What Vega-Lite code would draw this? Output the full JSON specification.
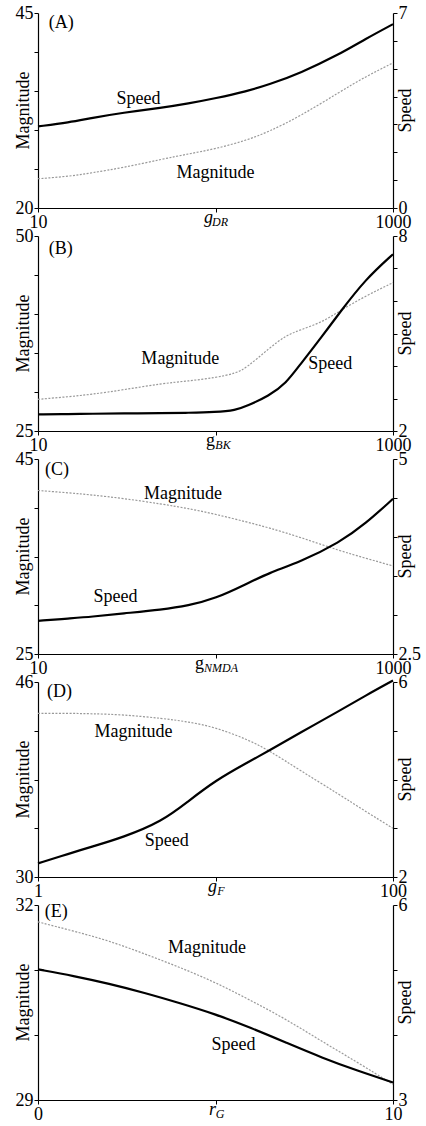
{
  "$schema": "https://vega.github.io/schema/vega-lite/v6.json",
  "padding": {"left": 14, "top": 4, "right": 2, "bottom": 2},
  "spacing": 28,
  "bounds": "flush",
  "config": {
    "view": {"stroke": null},
    "font": "'Liberation Serif', 'Times New Roman', Times, 'DejaVu Serif', serif",
    "axis": {
      "grid": false, "domainColor": "#000", "tickColor": "#000", "labelColor": "#000", "titleColor": "#000",
      "labelFlush": false, "labelOverlap": false, "tickSize": 4, "labelPadding": 1,
      "labelFont": "'Liberation Serif', 'Times New Roman', Times, 'DejaVu Serif', serif", "titleFont": "'Liberation Serif', 'Times New Roman', Times, 'DejaVu Serif', serif",
      "labelFontSize": 18, "titleFontSize": 18, "titleFontWeight": "normal", "domainWidth": 1.2, "tickWidth": 1
    },
    "text": {"font": "'Liberation Serif', 'Times New Roman', Times, 'DejaVu Serif', serif", "fontSize": 18, "color": "#000"}
  },
  "vconcat": [
    {
      "width": 355, "height": 195,
      "data": {"values": [
        {"x": 10, "magnitude": 23.75, "speed": 2.93},
        {"x": 15, "magnitude": 24.06, "speed": 3.07},
        {"x": 20, "magnitude": 24.5, "speed": 3.23},
        {"x": 30, "magnitude": 25.16, "speed": 3.42},
        {"x": 50, "magnitude": 26.26, "speed": 3.6},
        {"x": 70, "magnitude": 26.92, "speed": 3.75},
        {"x": 100, "magnitude": 27.58, "speed": 3.94},
        {"x": 150, "magnitude": 28.69, "speed": 4.19},
        {"x": 200, "magnitude": 29.79, "speed": 4.43},
        {"x": 300, "magnitude": 31.77, "speed": 4.84},
        {"x": 500, "magnitude": 34.86, "speed": 5.52},
        {"x": 700, "magnitude": 36.84, "speed": 6.07},
        {"x": 1000, "magnitude": 38.6, "speed": 6.6}
      ]},
      "encoding": {"x": {"field": "x", "type": "quantitative", "scale": {"type": "log", "domain": [10, 1000]},
        "axis": {"values": [10, 100, 1000], "labelExpr": "datum.value == 100 ? 'DR' : (datum.value == 10 ? '10' : '1000')",
          "labelFontSize": {"condition": {"test": "datum.value == 100", "value": 12}, "value": 18},
          "labelFontStyle": {"condition": {"test": "datum.value == 100", "value": "italic"}, "value": "normal"},
          "labelOffset": {"condition": {"test": "datum.value == 100", "value": 4}, "value": 0},
          "labelPadding": {"condition": {"test": "datum.value == 100", "value": 4}, "value": 1},
          "title": "g", "titleFontStyle": "italic", "titleX": 170, "titleY": 14, "titleAlign": "center", "titleBaseline": "alphabetic"}}},
      "layer": [
        {
          "encoding": {"y": {"field": "magnitude", "type": "quantitative", "scale": {"domain": [20, 45]},
            "axis": {"orient": "left", "values": [20, 25, 30, 35, 40, 45], "labelExpr": "datum.value == 20 || datum.value == 45 ? format(datum.value, '~g') : ''",
              "title": "Magnitude", "titleAngle": 270, "titleX": -15, "titleY": 97, "titleAlign": "center", "titleBaseline": "middle"}}},
          "layer": [
            {"mark": {"type": "line", "color": "#999", "strokeWidth": 1.2, "strokeDash": [2, 1.5], "interpolate": "basis"}},
            {"data": {"values": [{"x": 100, "magnitude": 24.5, "label": "Magnitude"}]}, "mark": {"type": "text", "baseline": "middle"}, "encoding": {"text": {"field": "label"}}},
            {"data": {"values": [{"x": 11.5, "magnitude": 43.7, "label": "(A)"}]}, "mark": {"type": "text", "align": "left", "baseline": "middle"}, "encoding": {"text": {"field": "label"}}}
          ]
        },
        {
          "encoding": {"y": {"field": "speed", "type": "quantitative", "scale": {"domain": [0, 7]},
            "axis": {"orient": "right", "values": [0, 1, 2, 3, 4, 5, 6, 7], "labelExpr": "datum.value == 0 || datum.value == 7 ? format(datum.value, '~g') : ''",
              "title": "Speed", "titleAngle": 270, "titleX": 12, "titleY": 97, "titleAlign": "center", "titleBaseline": "middle"}}},
          "layer": [
            {"mark": {"type": "line", "color": "#000", "strokeWidth": 2.2, "interpolate": "basis"}},
            {"data": {"values": [{"x": 36.8, "speed": 3.91, "label": "Speed"}]}, "mark": {"type": "text", "baseline": "middle"}, "encoding": {"text": {"field": "label"}}}
          ]
        }
      ],
      "resolve": {"scale": {"y": "independent"}, "axis": {"y": "independent"}}
    },
    {
      "width": 355, "height": 195,
      "data": {"values": [
        {"x": 10, "magnitude": 29.06, "speed": 2.51},
        {"x": 15, "magnitude": 29.4, "speed": 2.52},
        {"x": 20, "magnitude": 29.7, "speed": 2.53},
        {"x": 30, "magnitude": 30.26, "speed": 2.54},
        {"x": 50, "magnitude": 31.1, "speed": 2.55},
        {"x": 70, "magnitude": 31.4, "speed": 2.56},
        {"x": 100, "magnitude": 31.84, "speed": 2.58},
        {"x": 130, "magnitude": 32.39, "speed": 2.64},
        {"x": 150, "magnitude": 33.12, "speed": 2.77},
        {"x": 200, "magnitude": 35.6, "speed": 3.08},
        {"x": 250, "magnitude": 37.26, "speed": 3.47},
        {"x": 300, "magnitude": 37.95, "speed": 4.05},
        {"x": 400, "magnitude": 38.97, "speed": 4.92},
        {"x": 500, "magnitude": 40.38, "speed": 5.64},
        {"x": 700, "magnitude": 42.31, "speed": 6.67},
        {"x": 1000, "magnitude": 44.02, "speed": 7.44}
      ]},
      "encoding": {"x": {"field": "x", "type": "quantitative", "scale": {"type": "log", "domain": [10, 1000]},
        "axis": {"values": [10, 100, 1000], "labelExpr": "datum.value == 100 ? 'BK' : (datum.value == 10 ? '10' : '1000')",
          "labelFontSize": {"condition": {"test": "datum.value == 100", "value": 12}, "value": 18},
          "labelFontStyle": {"condition": {"test": "datum.value == 100", "value": "italic"}, "value": "normal"},
          "labelOffset": {"condition": {"test": "datum.value == 100", "value": 7}, "value": 0},
          "labelPadding": {"condition": {"test": "datum.value == 100", "value": 4}, "value": 1},
          "title": "g", "titleFontStyle": "normal", "titleX": 172, "titleY": 14, "titleAlign": "center", "titleBaseline": "alphabetic"}}},
      "layer": [
        {
          "encoding": {"y": {"field": "magnitude", "type": "quantitative", "scale": {"domain": [25, 50]},
            "axis": {"orient": "left", "values": [25, 30, 35, 40, 45, 50], "labelExpr": "datum.value == 25 || datum.value == 50 ? format(datum.value, '~g') : ''",
              "title": "Magnitude", "titleAngle": 270, "titleX": -15, "titleY": 97, "titleAlign": "center", "titleBaseline": "middle"}}},
          "layer": [
            {"mark": {"type": "line", "color": "#999", "strokeWidth": 1.2, "strokeDash": [2, 1.5], "interpolate": "basis"}},
            {"data": {"values": [{"x": 63.4, "magnitude": 34.2, "label": "Magnitude"}]}, "mark": {"type": "text", "baseline": "middle"}, "encoding": {"text": {"field": "label"}}},
            {"data": {"values": [{"x": 11.5, "magnitude": 48.35, "label": "(B)"}]}, "mark": {"type": "text", "align": "left", "baseline": "middle"}, "encoding": {"text": {"field": "label"}}}
          ]
        },
        {
          "encoding": {"y": {"field": "speed", "type": "quantitative", "scale": {"domain": [2, 8]},
            "axis": {"orient": "right", "values": [2, 3, 4, 5, 6, 7, 8], "labelExpr": "datum.value == 2 || datum.value == 8 ? format(datum.value, '~g') : ''",
              "title": "Speed", "titleAngle": 270, "titleX": 12, "titleY": 97, "titleAlign": "center", "titleBaseline": "middle"}}},
          "layer": [
            {"mark": {"type": "line", "color": "#000", "strokeWidth": 2.2, "interpolate": "basis"}},
            {"data": {"values": [{"x": 443, "speed": 4.05, "label": "Speed"}]}, "mark": {"type": "text", "baseline": "middle"}, "encoding": {"text": {"field": "label"}}}
          ]
        }
      ],
      "resolve": {"scale": {"y": "independent"}, "axis": {"y": "independent"}}
    },
    {
      "width": 355, "height": 195,
      "data": {"values": [
        {"x": 10, "magnitude": 41.77, "speed": 2.925},
        {"x": 15, "magnitude": 41.53, "speed": 2.956},
        {"x": 20, "magnitude": 41.32, "speed": 2.977},
        {"x": 30, "magnitude": 40.97, "speed": 3.02},
        {"x": 50, "magnitude": 40.38, "speed": 3.07},
        {"x": 70, "magnitude": 39.93, "speed": 3.12},
        {"x": 100, "magnitude": 39.34, "speed": 3.21},
        {"x": 150, "magnitude": 38.54, "speed": 3.4},
        {"x": 200, "magnitude": 37.95, "speed": 3.54},
        {"x": 300, "magnitude": 36.98, "speed": 3.68},
        {"x": 500, "magnitude": 35.59, "speed": 3.93},
        {"x": 700, "magnitude": 34.83, "speed": 4.17},
        {"x": 1000, "magnitude": 34.03, "speed": 4.49}
      ]},
      "encoding": {"x": {"field": "x", "type": "quantitative", "scale": {"type": "log", "domain": [10, 1000]},
        "axis": {"values": [10, 100, 1000], "labelExpr": "datum.value == 100 ? 'NMDA' : (datum.value == 10 ? '10' : '1000')",
          "labelFontSize": {"condition": {"test": "datum.value == 100", "value": 12}, "value": 18},
          "labelFontStyle": {"condition": {"test": "datum.value == 100", "value": "italic"}, "value": "normal"},
          "labelOffset": {"condition": {"test": "datum.value == 100", "value": 5}, "value": 0},
          "labelPadding": {"condition": {"test": "datum.value == 100", "value": 4}, "value": 1},
          "title": "g", "titleFontStyle": "normal", "titleX": 161, "titleY": 14, "titleAlign": "center", "titleBaseline": "alphabetic"}}},
      "layer": [
        {
          "encoding": {"y": {"field": "magnitude", "type": "quantitative", "scale": {"domain": [25, 45]},
            "axis": {"orient": "left", "values": [25, 30, 35, 40, 45], "labelExpr": "datum.value == 25 || datum.value == 45 ? format(datum.value, '~g') : ''",
              "title": "Magnitude", "titleAngle": 270, "titleX": -15, "titleY": 97, "titleAlign": "center", "titleBaseline": "middle"}}},
          "layer": [
            {"mark": {"type": "line", "color": "#999", "strokeWidth": 1.2, "strokeDash": [2, 1.5], "interpolate": "basis"}},
            {"data": {"values": [{"x": 65.5, "magnitude": 41.42, "label": "Magnitude"}]}, "mark": {"type": "text", "baseline": "middle"}, "encoding": {"text": {"field": "label"}}},
            {"data": {"values": [{"x": 10.95, "magnitude": 43.85, "label": "(C)"}]}, "mark": {"type": "text", "align": "left", "baseline": "middle"}, "encoding": {"text": {"field": "label"}}}
          ]
        },
        {
          "encoding": {"y": {"field": "speed", "type": "quantitative", "scale": {"domain": [2.5, 5]},
            "axis": {"orient": "right", "values": [2.5, 3, 3.5, 4, 4.5, 5], "labelExpr": "datum.value == 2.5 || datum.value == 5 ? format(datum.value, '~g') : ''",
              "title": "Speed", "titleAngle": 270, "titleX": 12, "titleY": 97, "titleAlign": "center", "titleBaseline": "middle"}}},
          "layer": [
            {"mark": {"type": "line", "color": "#000", "strokeWidth": 2.2, "interpolate": "basis"}},
            {"data": {"values": [{"x": 27.3, "speed": 3.23, "label": "Speed"}]}, "mark": {"type": "text", "baseline": "middle"}, "encoding": {"text": {"field": "label"}}}
          ]
        }
      ],
      "resolve": {"scale": {"y": "independent"}, "axis": {"y": "independent"}}
    },
    {
      "width": 355, "height": 195,
      "data": {"values": [
        {"x": 1, "magnitude": 43.43, "speed": 2.28},
        {"x": 1.5, "magnitude": 43.43, "speed": 2.48},
        {"x": 2, "magnitude": 43.4, "speed": 2.62},
        {"x": 3, "magnitude": 43.32, "speed": 2.81},
        {"x": 5, "magnitude": 43.02, "speed": 3.14},
        {"x": 7, "magnitude": 42.74, "speed": 3.55},
        {"x": 10, "magnitude": 42.28, "speed": 3.98},
        {"x": 15, "magnitude": 41.31, "speed": 4.34},
        {"x": 20, "magnitude": 40.4, "speed": 4.59},
        {"x": 30, "magnitude": 38.74, "speed": 4.96},
        {"x": 50, "magnitude": 36.76, "speed": 5.41},
        {"x": 70, "magnitude": 35.38, "speed": 5.72},
        {"x": 100, "magnitude": 34.0, "speed": 6.03}
      ]},
      "encoding": {"x": {"field": "x", "type": "quantitative", "scale": {"type": "log", "domain": [1, 100]},
        "axis": {"values": [1, 10, 100], "labelExpr": "datum.value == 10 ? 'F' : (datum.value == 1 ? '1' : '100')",
          "labelFontSize": {"condition": {"test": "datum.value == 10", "value": 12}, "value": 18},
          "labelFontStyle": {"condition": {"test": "datum.value == 10", "value": "italic"}, "value": "normal"},
          "labelOffset": {"condition": {"test": "datum.value == 10", "value": 5}, "value": 0},
          "labelPadding": {"condition": {"test": "datum.value == 10", "value": 4}, "value": 1},
          "title": "g", "titleFontStyle": "italic", "titleX": 174, "titleY": 14, "titleAlign": "center", "titleBaseline": "alphabetic"}}},
      "layer": [
        {
          "encoding": {"y": {"field": "magnitude", "type": "quantitative", "scale": {"domain": [30, 46]},
            "axis": {"orient": "left", "values": [30, 34, 38, 42, 46], "labelExpr": "datum.value == 30 || datum.value == 46 ? format(datum.value, '~g') : ''",
              "title": "Magnitude", "titleAngle": 270, "titleX": -15, "titleY": 97, "titleAlign": "center", "titleBaseline": "middle"}}},
          "layer": [
            {"mark": {"type": "line", "color": "#999", "strokeWidth": 1.2, "strokeDash": [2, 1.5], "interpolate": "basis"}},
            {"data": {"values": [{"x": 3.45, "magnitude": 41.86, "label": "Magnitude"}]}, "mark": {"type": "text", "baseline": "middle"}, "encoding": {"text": {"field": "label"}}},
            {"data": {"values": [{"x": 1.124, "magnitude": 45.2, "label": "(D)"}]}, "mark": {"type": "text", "align": "left", "baseline": "middle"}, "encoding": {"text": {"field": "label"}}}
          ]
        },
        {
          "encoding": {"y": {"field": "speed", "type": "quantitative", "scale": {"domain": [2, 6]},
            "axis": {"orient": "right", "values": [2, 3, 4, 5, 6], "labelExpr": "datum.value == 2 || datum.value == 6 ? format(datum.value, '~g') : ''",
              "title": "Speed", "titleAngle": 270, "titleX": 12, "titleY": 97, "titleAlign": "center", "titleBaseline": "middle"}}},
          "layer": [
            {"mark": {"type": "line", "color": "#000", "strokeWidth": 2.2, "interpolate": "basis"}},
            {"data": {"values": [{"x": 5.31, "speed": 2.745, "label": "Speed"}]}, "mark": {"type": "text", "baseline": "middle"}, "encoding": {"text": {"field": "label"}}}
          ]
        }
      ],
      "resolve": {"scale": {"y": "independent"}, "axis": {"y": "independent"}}
    },
    {
      "width": 355, "height": 195,
      "data": {"values": [
        {"x": 0, "magnitude": 31.74, "speed": 5.01},
        {"x": 1, "magnitude": 31.6, "speed": 4.91},
        {"x": 2, "magnitude": 31.45, "speed": 4.79},
        {"x": 3, "magnitude": 31.25, "speed": 4.65},
        {"x": 4, "magnitude": 31.04, "speed": 4.49},
        {"x": 5, "magnitude": 30.81, "speed": 4.32},
        {"x": 6, "magnitude": 30.53, "speed": 4.11},
        {"x": 7, "magnitude": 30.24, "speed": 3.88},
        {"x": 8, "magnitude": 29.9, "speed": 3.65},
        {"x": 9, "magnitude": 29.58, "speed": 3.45},
        {"x": 10, "magnitude": 29.24, "speed": 3.27}
      ]},
      "encoding": {"x": {"field": "x", "type": "quantitative", "scale": {"domain": [0, 10], "nice": false, "zero": false},
        "axis": {"values": [0, 5, 10], "labelExpr": "datum.value == 5 ? 'G' : (datum.value == 0 ? '0' : '10')",
          "labelFontSize": {"condition": {"test": "datum.value == 5", "value": 12}, "value": 18},
          "labelFontStyle": {"condition": {"test": "datum.value == 5", "value": "italic"}, "value": "normal"},
          "labelOffset": {"condition": {"test": "datum.value == 5", "value": 4}, "value": 0},
          "labelPadding": {"condition": {"test": "datum.value == 5", "value": 4}, "value": 1},
          "title": "r", "titleFontStyle": "italic", "titleX": 174, "titleY": 14, "titleAlign": "center", "titleBaseline": "alphabetic"}}},
      "layer": [
        {
          "encoding": {"y": {"field": "magnitude", "type": "quantitative", "scale": {"domain": [29, 32], "zero": false},
            "axis": {"orient": "left", "values": [29, 30, 31, 32], "labelExpr": "datum.value == 29 || datum.value == 32 ? format(datum.value, '~g') : ''",
              "title": "Magnitude", "titleAngle": 270, "titleX": -15, "titleY": 97, "titleAlign": "center", "titleBaseline": "middle"}}},
          "layer": [
            {"mark": {"type": "line", "color": "#999", "strokeWidth": 1.2, "strokeDash": [2, 1.5], "interpolate": "basis"}},
            {"data": {"values": [{"x": 4.76, "magnitude": 31.34, "label": "Magnitude"}]}, "mark": {"type": "text", "baseline": "middle"}, "encoding": {"text": {"field": "label"}}},
            {"data": {"values": [{"x": 0.19, "magnitude": 31.89, "label": "(E)"}]}, "mark": {"type": "text", "align": "left", "baseline": "middle"}, "encoding": {"text": {"field": "label"}}}
          ]
        },
        {
          "encoding": {"y": {"field": "speed", "type": "quantitative", "scale": {"domain": [3, 6], "zero": false},
            "axis": {"orient": "right", "values": [3, 4, 5, 6], "labelExpr": "datum.value == 3 || datum.value == 6 ? format(datum.value, '~g') : ''",
              "title": "Speed", "titleAngle": 270, "titleX": 12, "titleY": 97, "titleAlign": "center", "titleBaseline": "middle"}}},
          "layer": [
            {"mark": {"type": "line", "color": "#000", "strokeWidth": 2.2, "interpolate": "basis"}},
            {"data": {"values": [{"x": 5.51, "speed": 3.84, "label": "Speed"}]}, "mark": {"type": "text", "baseline": "middle"}, "encoding": {"text": {"field": "label"}}}
          ]
        }
      ],
      "resolve": {"scale": {"y": "independent"}, "axis": {"y": "independent"}}
    }
  ]
}
